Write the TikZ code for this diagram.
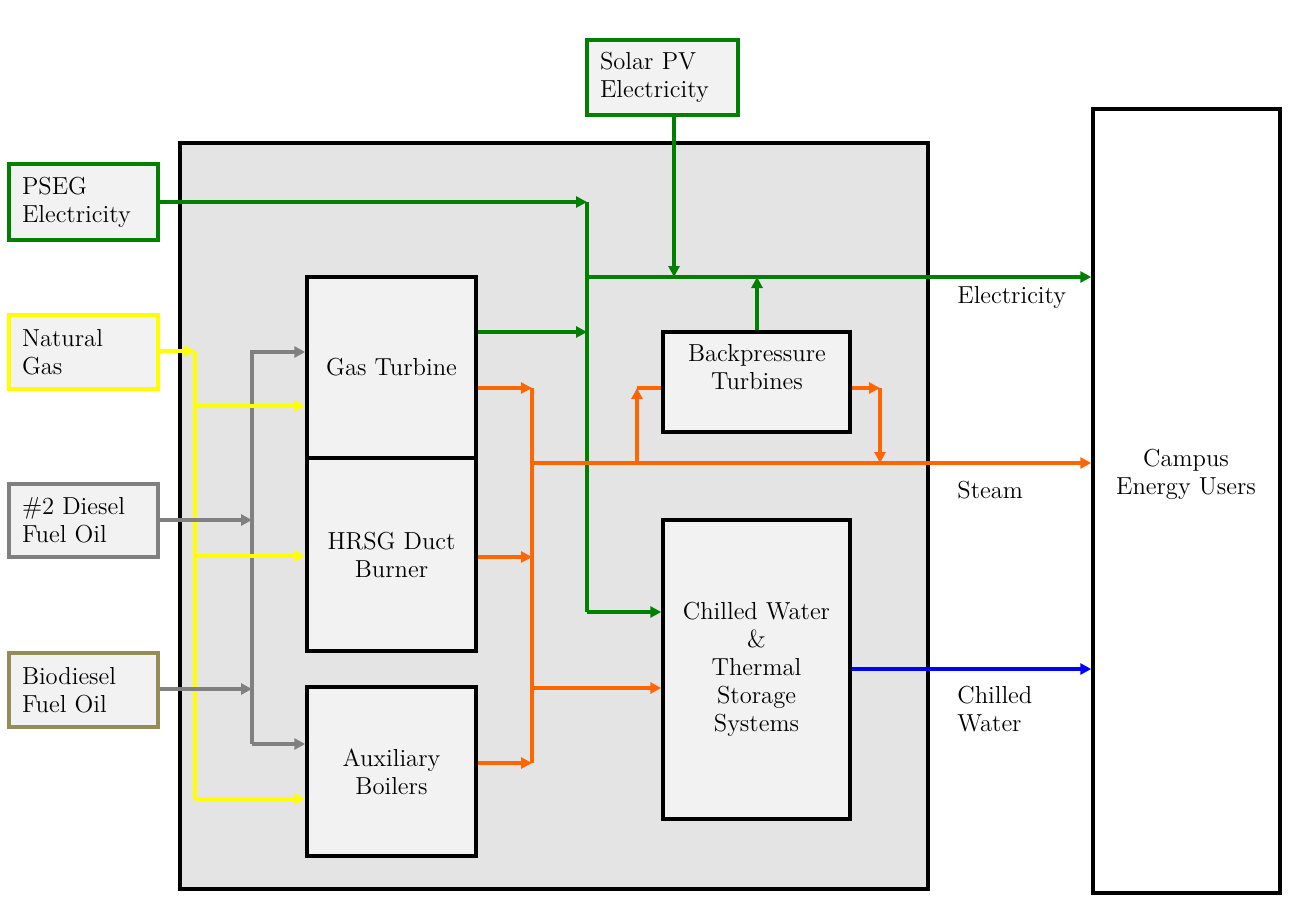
\documentclass[tikz,border=0pt]{standalone}
\usetikzlibrary{arrows.meta}
\definecolor{cgreen}{RGB}{0,128,0}
\definecolor{cyellow}{RGB}{255,255,0}
\definecolor{cgray}{RGB}{128,128,128}
\definecolor{corange}{RGB}{255,102,0}
\definecolor{cblue}{RGB}{0,0,255}
\definecolor{colive}{RGB}{150,140,90}
\definecolor{boxfill}{RGB}{242,242,242}
\definecolor{mainfill}{RGB}{228,228,228}
\newcommand\pxu{0.02cm}
\begin{document}
\begin{tikzpicture}[x=0.02cm,y=-0.02cm,
  font=\fontsize{14}{15.9}\selectfont,
  wh/.style 2 args={minimum width=#1*\pxu, minimum height=#2*\pxu},
  box/.style={draw=black, line width=0.07cm, fill=boxfill, inner sep=0pt, align=center},
  src/.style={box, align=left, text width=2.46cm, inner xsep=0.26cm},
  flow/.style={line width=0.065cm, -{Triangle[length=0.22cm,width=0.22cm]}},
  line/.style={line width=0.065cm},
  lbl/.style={anchor=west, align=left, inner sep=0pt}
]
\useasboundingbox (0,0) rectangle (1310,904);
\fill[white] (0,0) rectangle (1310,904);

% containers
\node[draw=black, line width=0.07cm, fill=mainfill, wh={748}{746}] (main) at (554,516) {};
\node[draw=black, line width=0.07cm, fill=white, wh={187}{784}] (campus) at (1186.5,501) {};
\node[inner sep=0pt, align=center] (campustxt) at (1186,474) {Campus\\Energy Users};

% sources
\node[src, draw=cgreen, wh={151}{75}, text width=2.5cm] (solar) at (662.5,77.5) {Solar PV\\Electricity};
\node[src, draw=cgreen, wh={149}{76}] (pseg) at (83.5,202) {PSEG\\Electricity};
\node[src, draw=cyellow, wh={149}{74}] (ng) at (83.5,352) {Natural\\Gas};
\node[src, draw=cgray, wh={149}{73}] (diesel) at (83.5,520.5) {\#2 Diesel\\Fuel Oil};
\node[src, draw=colive, wh={149}{74}] (bio) at (83.5,690) {Biodiesel\\Fuel Oil};

% plant units
\node[box, wh={169}{181}] (gt) at (391.5,367.5) {Gas Turbine};
\node[box, wh={169}{193}] (hrsg) at (391.5,554.5) {HRSG Duct\\Burner};
\node[box, wh={169}{169}] (aux) at (391.5,771.5) {Auxiliary\\Boilers};
\node[box, wh={187}{100}] (bp) at (756.5,382) {};
\node[inner sep=0pt, align=center] (bptxt) at (757,367.5) {Backpressure\\Turbines};
\node[box, wh={187}{299}] (cw) at (756.5,669.5) {Chilled Water\\\&\\Thermal\\Storage\\Systems};

% junction coordinates
\coordinate (jpseg) at (587,202);
\coordinate (jgt) at (587,332);
\coordinate (ebus) at (587,277);
\coordinate (jcw) at (587,612);
\coordinate (jsolar) at (674,277);
\coordinate (jbp) at (757,277);

\coordinate (yt) at (195,351);
\coordinate (y1) at (195,406);
\coordinate (y2) at (195,556);
\coordinate (yb) at (195,799);

\coordinate (gtop) at (252,352);
\coordinate (gd) at (252,520);
\coordinate (gb) at (252,689);
\coordinate (gbot) at (252,744);

\coordinate (ot) at (532,388);
\coordinate (obus) at (532,463);
\coordinate (oh) at (532,557);
\coordinate (ocw) at (532,688);
\coordinate (ob) at (532,763);
\coordinate (bpin) at (637,463);
\coordinate (bpinc) at (637,388);
\coordinate (bpoc) at (880,388);
\coordinate (bpout) at (880,463);

% electricity (green)
\draw[flow, cgreen] (pseg.east |- jpseg) -- (jpseg);
\draw[line, cgreen] (jpseg) -- (jcw);
\draw[flow, cgreen] (jcw) -- (cw.west |- jcw);
\draw[flow, cgreen] (gt.east |- jgt) -- (jgt);
\draw[flow, cgreen] (ebus) -- (campus.west |- ebus);
\draw[flow, cgreen] (solar.south -| jsolar) -- (jsolar);
\draw[flow, cgreen] (bp.north -| jbp) -- (jbp);

% fuel oil (gray) vertical
\draw[flow, cgray] (gbot) -- (gtop) -- (gt.west |- gtop);
\draw[flow, cgray] (gbot) -- (aux.west |- gbot);

% natural gas (yellow)
\draw[flow, cyellow] (ng.east |- yt) -- (yt);
\draw[line, cyellow] (yt) -- (yb);
\draw[flow, cyellow] (y1) -- (gt.west |- y1);
\draw[flow, cyellow] (y2) -- (hrsg.west |- y2);
\draw[flow, cyellow] (yb) -- (aux.west |- yb);

% fuel oil inputs
\draw[flow, cgray] (diesel.east |- gd) -- (gd);
\draw[flow, cgray] (bio.east |- gb) -- (gb);

% steam (orange)
\draw[flow, corange] (gt.east |- ot) -- (ot);
\draw[flow, corange] (hrsg.east |- oh) -- (oh);
\draw[flow, corange] (aux.east |- ob) -- (ob);
\draw[line, corange] (ot) -- (ob);
\draw[flow, corange] (obus) -- (campus.west |- obus);
\draw[flow, corange] (ocw) -- (cw.west |- ocw);
\draw[flow, corange] (bpin) -- (bpinc);
\draw[line, corange] (bpinc) -- (bp.west |- bpinc);
\draw[flow, corange] (bp.east |- bpoc) -- (bpoc);
\draw[flow, corange] (bpoc) -- (bpout);

% chilled water (blue)
\draw[flow, cblue] (cw.east |- 0,669) -- (campus.west |- 0,669);

% labels
\node[lbl] (lelec) at (957,297) {Electricity};
\node[lbl] (lsteam) at (957,490) {Steam};
\node[lbl] (lcw) at (957,709) {Chilled\\Water};
\end{tikzpicture}
\end{document}
